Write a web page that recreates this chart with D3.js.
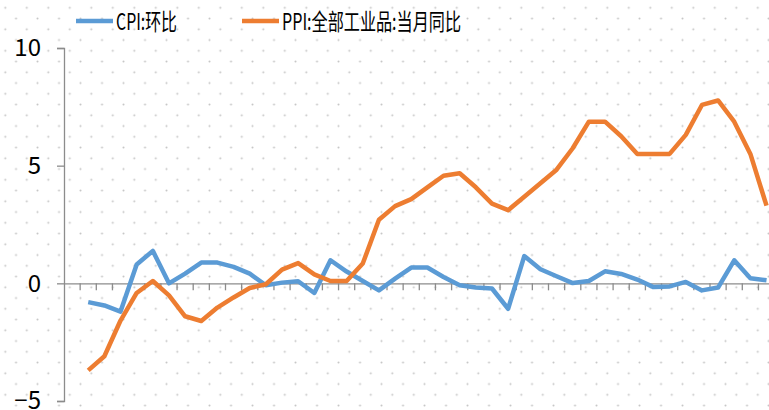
<html>
<head>
<script src="https://d3js.org/d3.v7.min.js"></script>
<style>
  body { margin: 0; background: #fff; }
  text { font-family: "Noto Sans CJK SC", "Noto Sans", sans-serif; fill: #000; }
</style>
</head>
<body>
<div id="chart"></div>
<script>
const seriesNames = ["CPI:环比", "PPI:全部工业品:当月同比"];
const seriesColors = ["#5B9BD5", "#ED7D31"];

const cpi = [-0.8, -0.94, -1.2, 0.8, 1.38, 0.0, 0.41, 0.88, 0.88, 0.7,
             0.41, -0.08, 0.03, 0.09, -0.41, 0.98, 0.5, 0.1, -0.3, 0.2,
             0.67, 0.67, 0.27, -0.08, -0.18, -0.22, -1.08, 1.16, 0.6, 0.3,
             0.01, 0.1, 0.51, 0.4, 0.16, -0.16, -0.13, 0.06, -0.3, -0.18,
             0.98, 0.22, 0.13];
const ppi = [-3.7, -3.1, -1.58, -0.41, 0.1, -0.51, -1.4, -1.6, -1.03, -0.6,
             -0.2, -0.04, 0.58, 0.86, 0.38, 0.1, 0.1, 0.84, 2.7, 3.28,
             3.58, 4.08, 4.57, 4.68, 4.08, 3.39, 3.11, 3.68, 4.25, 4.83,
             5.74, 6.87, 6.87, 6.25, 5.5, 5.5, 5.5, 6.31, 7.58, 7.77,
             6.87, 5.5, 3.3];
const yTicks = [-5, 0, 5, 10];

const w = 769, h = 410;
const plotLeft = 64, plotTop = 48, plotBottom = 401;
const step = 16.15;
const nCat = cpi.length + 1; // first slot left empty

const svg = d3.select("#chart").append("svg")
  .attr("width", w).attr("height", h);

// dotted background
const defs = svg.append("defs");
const pat = defs.append("pattern")
  .attr("id", "dots")
  .attr("patternUnits", "userSpaceOnUse")
  .attr("width", 21.5).attr("height", 21.5)
  .attr("x", 5.3 - 21.5 / 4).attr("y", 7.8 - 21.5 / 4);
pat.append("circle").attr("cx", 21.5 / 4).attr("cy", 21.5 / 4).attr("r", 1).attr("fill", "#c4c4c4");
pat.append("circle").attr("cx", 21.5 / 4 + 10.75).attr("cy", 21.5 / 4 + 10.75).attr("r", 1).attr("fill", "#c4c4c4");
svg.append("rect").attr("width", w).attr("height", h).attr("fill", "url(#dots)");

const xScale = d3.scaleBand()
  .domain(d3.range(nCat))
  .range([plotLeft, plotLeft + nCat * step]);
const yScale = d3.scaleLinear()
  .domain([-5, 10])
  .range([plotBottom, plotTop]);

const xPos = i => xScale(i + 1) + xScale.bandwidth() / 2;

// y axis
const yAxis = d3.axisLeft(yScale).tickValues(yTicks).tickSize(7).tickPadding(16);
const gy = svg.append("g").attr("transform", "translate(" + plotLeft + ",0)").call(yAxis);
gy.select(".domain").attr("stroke", "#8c8c8c").attr("stroke-width", 1.3);
gy.selectAll(".tick line").attr("stroke", "#8c8c8c").attr("stroke-width", 1.3);
gy.selectAll(".tick text")
  .attr("font-size", 24)
  .attr("font-family", "Noto Sans CJK SC")
  .attr("fill", "#000");

// x axis on zero line
const xAxis = d3.axisBottom(xScale).tickFormat("").tickSize(0);
const gx = svg.append("g").attr("transform", "translate(0," + yScale(0) + ")").call(xAxis);
gx.select(".domain").attr("stroke", "#8c8c8c").attr("stroke-width", 1.3);
gx.selectAll(".tick").remove();
gx.selectAll("line.cat")
  .data(d3.range(1, nCat))
  .enter().append("line")
  .attr("class", "cat")
  .attr("x1", d => xScale(d)).attr("x2", d => xScale(d))
  .attr("y1", 0).attr("y2", 7)
  .attr("stroke", "#8c8c8c").attr("stroke-width", 1.3);

// lines
const line = d3.line()
  .x((d, i) => xPos(i))
  .y(d => yScale(d));

[cpi, ppi].forEach((s, k) => {
  svg.append("path")
    .datum(s)
    .attr("d", line)
    .attr("fill", "none")
    .attr("stroke", seriesColors[k])
    .attr("stroke-width", 4.5)
    .attr("stroke-linejoin", "round");
});

// legend
const legendX = [76, 242];
const legendTextLen = [61, 179];
seriesNames.forEach((name, k) => {
  svg.append("line")
    .attr("x1", legendX[k]).attr("x2", legendX[k] + 37)
    .attr("y1", 21).attr("y2", 21)
    .attr("stroke", seriesColors[k]).attr("stroke-width", 4.5);
  svg.append("text")
    .attr("x", legendX[k] + 40).attr("y", 30)
    .attr("font-size", 23)
    .attr("textLength", legendTextLen[k])
    .attr("lengthAdjust", "spacingAndGlyphs")
    .text(name);
});
</script>
</body>
</html>
